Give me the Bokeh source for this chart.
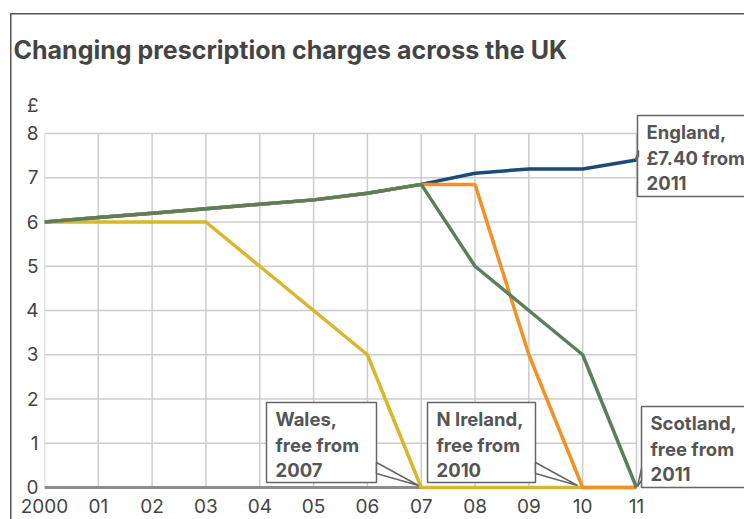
from bokeh.plotting import figure
from bokeh.models import Range1d, FixedTicker
from bokeh.core.properties import value
from bokeh.embed import file_html
from bokeh.resources import INLINE

# ---- data ----
years = [2000, 2001, 2002, 2003, 2004, 2005, 2006, 2007, 2008, 2009, 2010, 2011]
year_labels = ["2000", "01", "02", "03", "04", "05", "06", "07", "08", "09", "10", "11"]
england = [6.00, 6.10, 6.20, 6.30, 6.40, 6.50, 6.65, 6.85, 7.10, 7.20, 7.20, 7.40]
wales = [6.00, 6.00, 6.00, 6.00, 5.00, 4.00, 3.00, 0.00, 0.00, 0.00, 0.00, 0.00]
n_ireland = [6.00, 6.10, 6.20, 6.30, 6.40, 6.50, 6.65, 6.85, 6.85, 3.00, 0.00, 0.00]
scotland = [6.00, 6.10, 6.20, 6.30, 6.40, 6.50, 6.65, 6.85, 5.00, 4.00, 3.00, 0.00]
y_ticks = [0, 1, 2, 3, 4, 5, 6, 7, 8]
y_unit = "£"

title_text = "Changing prescription charges across the UK"
england_note = ["England,", "£7.40 from", "2011"]
wales_note = ["Wales,", "free from", "2007"]
ni_note = ["N Ireland,", "free from", "2010"]
scotland_note = ["Scotland,", "free from", "2011"]

# ---- layout helpers (pixel -> data, for annotations only) ----
W, H = 744, 519
FL, FR, FT, FB = 44, 744, 95, 490          # frame edges in pixels
PX_YEAR = (636 - 44) / 11.0
PX_UNIT = (487 - 133) / 8.0


def X(px):
    return 2000 + (px - 44) / PX_YEAR


def Y(py):
    return (487 - py) / PX_UNIT


FONT = "Inter"
TXT = "#444444"
NOTE = "#555555"
GRID = "#cccccc"
BORDER = "#555555"

p = figure(width=W, height=H, output_backend="svg", toolbar_location=None,
           x_range=Range1d(X(FL), X(FR)), y_range=Range1d(Y(FB), Y(FT)),
           min_border_left=FL, min_border_right=W - FR,
           min_border_top=FT, min_border_bottom=H - FB)
p.outline_line_color = None
p.background_fill_color = "white"
p.border_fill_color = None
p.xgrid.visible = False
p.ygrid.visible = False
# outer panel border (left and top edges) drawn behind the transparent border area
p.styles = {
    "background": (f"linear-gradient({BORDER}, {BORDER}) 10px 13px / 1.5px 600px no-repeat, "
                   f"linear-gradient({BORDER}, {BORDER}) 10px 13px / 800px 1.5px no-repeat, "
                   "white"),
}

# title
p.title.text = title_text
p.title.align = "left"
p.title.offset = 13 - FL
p.title.text_font = FONT
p.title.text_font_size = "25px"
p.title.text_font_style = "bold"
p.title.text_color = TXT
p.title.standoff = 62

# axes
unit_pos = Y(105)
p.yaxis.ticker = FixedTicker(ticks=y_ticks + [unit_pos])
p.yaxis.major_label_overrides = {unit_pos: y_unit}
p.xaxis.ticker = FixedTicker(ticks=years)
p.xaxis.major_label_overrides = {y: l for y, l in zip(years, year_labels)}
for ax in (p.xaxis[0], p.yaxis[0]):
    ax.axis_line_color = None
    ax.major_tick_line_color = None
    ax.minor_tick_line_color = None
    ax.major_tick_out = 0
    ax.major_label_text_font = FONT
    ax.major_label_text_font_size = "19px"
    ax.major_label_text_color = TXT
p.xaxis.major_label_standoff = 8
p.yaxis.major_label_standoff = 6

# grid drawn only over the data area
for yr in years:
    p.line([yr, yr], [y_ticks[0], y_ticks[-1]], line_color=GRID, line_width=1.5)
for t in y_ticks[1:]:
    p.line([years[0], years[-1]], [t, t], line_color=GRID, line_width=1.5)
p.line([years[0], years[-1]], [0, 0], line_color="#8c8c8c", line_width=3)

# series
p.line(years, england, line_color="#1d4a78", line_width=3.5)
p.line(years, wales, line_color="#d9b62c", line_width=3.5)
p.line(years, n_ireland, line_color="#f39127", line_width=3.5)
p.line(years, scotland, line_color="#5b7f5a", line_width=3.5)


def callout(box, lines, pointer):
    l, t, r, b = box
    p.quad(left=X(l), right=X(r), top=Y(t), bottom=Y(b),
           fill_color="white", line_color="#666666", line_width=1.5)
    p.patch([X(px) for px, _ in pointer], [Y(py) for _, py in pointer],
            fill_color="white", line_color="#666666", line_width=1.5)
    p.text(x=[X(l + 9)] * len(lines),
           y=[Y(t + 16.5 + 25.5 * i) for i in range(len(lines))], text=lines,
           text_font=value(FONT), text_font_size="18.5px",
           text_font_style="bold", text_color=NOTE,
           text_baseline="middle")


callout((637, 115, 760, 196), england_note, [(638, 150), (638, 156), (635, 159)])
callout((266, 402, 376, 482), wales_note, [(376, 462), (376, 473), (418, 485)])
callout((427, 402, 535, 482), ni_note, [(535, 462), (535, 473), (577, 485)])
callout((641, 406, 760, 487), scotland_note, [(641, 468), (641, 480), (637, 486)])

open("out.html", "w").write(file_html(p, INLINE))
